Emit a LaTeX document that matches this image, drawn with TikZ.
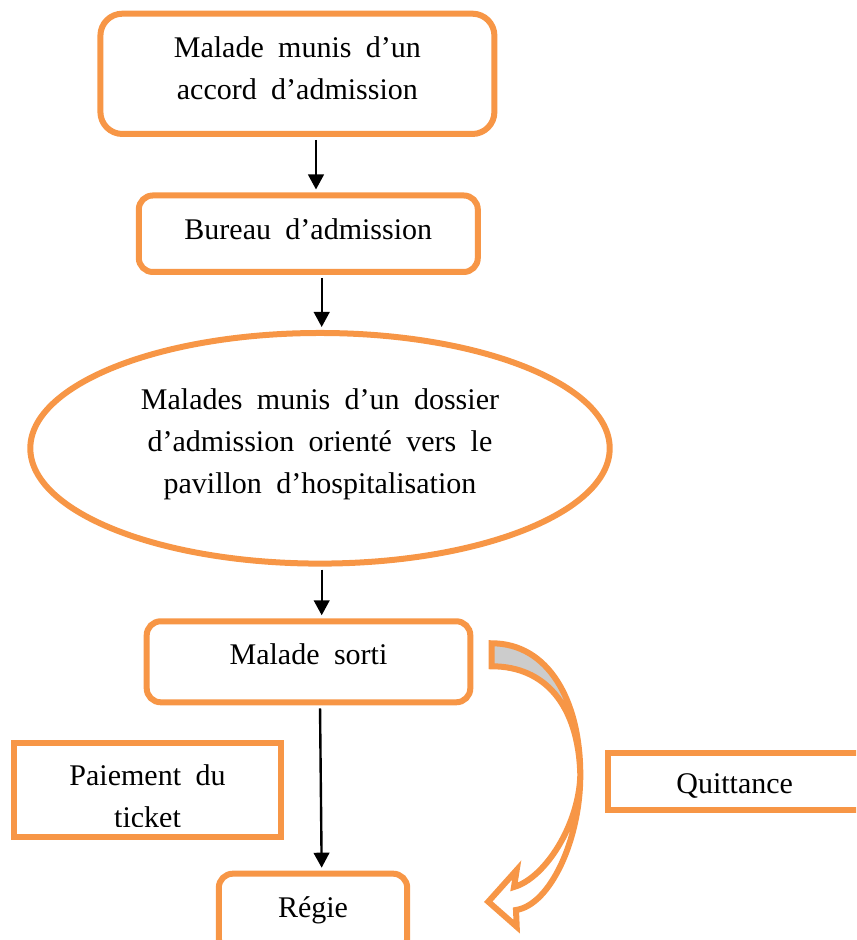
\documentclass[tikz,border=0pt]{standalone}
\usepackage{fontspec}
\setmainfont{Liberation Serif}[WordSpace=1.92]
\usepackage{tikz}
\usepackage{xcolor}
\usetikzlibrary{arrows.meta, shapes.geometric}
\definecolor{orangeword}{HTML}{F79646}

\begin{document}
\begin{tikzpicture}[
            x=0.5pt, y=0.5pt,
            texte/.style={font=\fontsize{15}{21}\selectfont, align=center, inner sep=0pt},
            boite/.style={texte, draw=orangeword, line width=3pt, rounded corners=7pt, fill=white},
            cadre/.style={texte, draw=orangeword, line width=3pt, fill=white},
            fleche/.style={-{Triangle[length=7.5pt, width=7.8pt]}, line width=1.2pt, shorten >=1.5pt, shorten <=1.5pt},
        ]
            \clip (0,0) rectangle (856,940);

            % chaine principale
            \node[boite, rounded corners=11pt, anchor=base, minimum width=197pt,
                text height=43.15pt, text depth=17pt] (accord) at (297.4,840)
                {Malade munis d’un\\accord d’admission};
            \node[boite, anchor=base, minimum width=169.5pt,
                text height=21.9pt, text depth=16.35pt] (bureau) at (308.3,700.7)
                {Bureau d’admission};
            \node[texte, ellipse, draw=orangeword, line width=3pt, anchor=base,
                minimum width=289.7pt, minimum height=115.3pt,
                text height=50pt, text depth=5pt] (pavillon) at (320,446.7)
                {Malades munis d’un dossier\\d’admission orienté vers le\\pavillon d’hospitalisation};
            \node[boite, anchor=base, minimum width=161.8pt,
                text height=21.5pt, text depth=19pt] (sorti) at (308.5,275.7)
                {Malade sorti};
            \node[boite, anchor=base, minimum width=94.2pt,
                text height=21.8pt, text depth=17.2pt] (regie) at (313,22.7)
                {Régie};

            % cadres sur les cotes
            \node[cadre, minimum width=133.5pt, minimum height=46.7pt] (paiement) at (147.8,150) {};
            \begin{scope}
                \clip (paiement.north west) rectangle ([yshift=6.35pt]paiement.south east);
                \node[texte, anchor=base] (paiementtxt) at (147.5,112.2) {Paiement du\\ticket};
            \end{scope}
            \node[cadre, anchor=base, minimum width=126.35pt,
                text height=20.5pt, text depth=7.85pt] (quittance) at (734.65,146)
                {Quittance};

            % fleches
            \draw[fleche] ([xshift=9.3pt]accord.south) -- ([xshift=9.3pt]accord.south |- bureau.north);
            \draw[fleche] ([xshift=6.7pt]bureau.south) -- ([xshift=6.7pt]bureau.south |- pavillon.north);
            \draw[fleche] ([xshift=0.85pt]pavillon.south) -- ([xshift=0.85pt]pavillon.south |- sorti.north);
            \draw[fleche] ([xshift=5.75pt]sorti.south) -- ([xshift=4.35pt]regie.north);

            % fleche courbe
            \coordinate (haut) at (491.7,296.7);
            \coordinate (queue) at (491.7,273.7);
            \coordinate (droite) at (580.3,165);
            \coordinate (extbas) at (516,30);
            \coordinate (intbas) at (514,53);
            \coordinate (pointe) at (488.3,38.3);
            \coordinate (barbe1) at (516.7,70);
            \coordinate (barbe2) at (516.7,13.3);
            \fill[gray!40] (haut) .. controls (548,296.7) and (580.3,240) .. (droite)
                .. controls (578.5,235) and (545,273.7) .. (queue) -- cycle;
            \fill[white] (droite) .. controls (580.3,100) and (550,35) .. (extbas)
                -- (barbe2) -- (pointe) -- (barbe1) -- (intbas)
                .. controls (545,62) and (579,115) .. (droite) -- cycle;
            \draw[orangeword, line width=3pt, line join=miter]
                (haut) .. controls (548,296.7) and (580.3,240) .. (droite)
                .. controls (580.3,100) and (550,35) .. (extbas)
                -- (barbe2) -- (pointe) -- (barbe1) -- (intbas)
                .. controls (545,62) and (579,115) .. (droite)
                .. controls (578.5,235) and (545,273.7) .. (queue) -- cycle;
\end{tikzpicture}
\end{document}
